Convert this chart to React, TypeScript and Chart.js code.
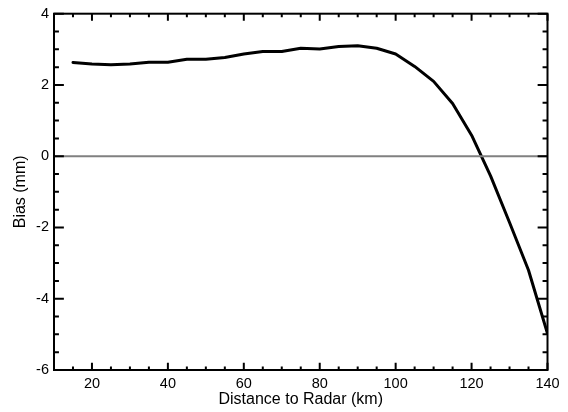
import React, { useEffect, useRef } from "react";
import { Chart, registerables } from "chart.js";

Chart.register(...registerables);

// Distance to radar (km) and bias (mm)
const DIST = [15, 20, 25, 30, 35, 40, 45, 50, 55, 60, 65, 70, 75, 80, 85, 90, 95, 100, 105, 110, 115, 120, 125, 130, 135, 140];
const BIAS = [2.63, 2.59, 2.57, 2.59, 2.64, 2.64, 2.72, 2.72, 2.77, 2.87, 2.94, 2.94, 3.03, 3.01, 3.08, 3.1, 3.03, 2.87, 2.52, 2.1, 1.48, 0.59, -0.55, -1.86, -3.2, -4.98];

// zero reference line
const ZERO_X = [10, 140];
const ZERO_Y = [0, 0];

const X_MIN = 10;
const X_MAX = 140;
const Y_MIN = -6;
const Y_MAX = 4;
const X_TICKS = [20, 40, 60, 80, 100, 120, 140];
const X_MINOR = [15, 25, 30, 35, 45, 50, 55, 65, 70, 75, 85, 90, 95, 105, 110, 115, 125, 130, 135];
const Y_TICKS = [-6, -4, -2, 0, 2, 4];
const Y_MINOR = [-5.5, -5, -4.5, -3.5, -3, -2.5, -1.5, -1, -0.5, 0.5, 1, 1.5, 2.5, 3, 3.5];

const FONT = "'Liberation Sans', Arial, Helvetica, sans-serif";

const framePlugin = {
  id: "frame",
  afterDraw(chart: any) {
    const { ctx, chartArea: a, scales } = chart;
    const x = scales.x;
    const y = scales.y;
    const h = a.bottom - a.top;
    const w = a.right - a.left;
    const xMaj = 0.02 * h;
    const yMaj = 0.02 * w;
    ctx.save();
    ctx.strokeStyle = "#000";
    ctx.lineWidth = 2;
    ctx.lineCap = "butt";
    ctx.strokeRect(a.left, a.top, w, h);
    ctx.beginPath();
    const xt = (v: number, len: number) => {
      const px = x.getPixelForValue(v);
      ctx.moveTo(px, a.bottom);
      ctx.lineTo(px, a.bottom - len);
      ctx.moveTo(px, a.top);
      ctx.lineTo(px, a.top + len);
    };
    const yt = (v: number, len: number) => {
      const py = y.getPixelForValue(v);
      ctx.moveTo(a.left, py);
      ctx.lineTo(a.left + len, py);
      ctx.moveTo(a.right, py);
      ctx.lineTo(a.right - len, py);
    };
    X_TICKS.forEach((v) => xt(v, xMaj));
    X_MINOR.forEach((v) => xt(v, xMaj / 2));
    Y_TICKS.forEach((v) => yt(v, yMaj));
    Y_MINOR.forEach((v) => yt(v, yMaj / 2));
    ctx.stroke();
    ctx.restore();
  },
};

export default function App() {
  const ref = useRef<HTMLCanvasElement | null>(null);

  useEffect(() => {
    if (!ref.current) return;
    const chart = new Chart(ref.current, {
      type: "line",
      data: {
        datasets: [
          {
            label: "zero",
            data: ZERO_X.map((v, i) => ({ x: v, y: ZERO_Y[i] })),
            borderColor: "#808080",
            borderWidth: 2,
            pointRadius: 0,
            tension: 0,
          },
          {
            label: "Bias",
            data: DIST.map((v, i) => ({ x: v, y: BIAS[i] })),
            borderColor: "#000",
            borderWidth: 3,
            pointRadius: 0,
            tension: 0,
            borderJoinStyle: "round",
            borderCapStyle: "round",
          },
        ],
      },
      options: {
        animation: false,
        responsive: false,
        layout: { padding: { top: 11, right: 20.5, left: 0, bottom: 0 } },
        plugins: { legend: { display: false }, tooltip: { enabled: false } },
        scales: {
          x: {
            type: "linear",
            min: X_MIN,
            max: X_MAX,
            afterBuildTicks: (s: any) => {
              s.ticks = X_TICKS.map((value) => ({ value }));
            },
            afterFit: (s: any) => {
              s.height = 42;
            },
            grid: { display: false, drawTicks: false },
            border: { display: false },
            ticks: {
              color: "#000",
              font: { family: FONT, size: 14.5 },
              padding: 5,
              maxRotation: 0,
              autoSkip: false,
            },
            title: {
              display: true,
              text: "Distance to Radar (km)",
              color: "#000",
              font: { family: FONT, size: 16 },
              padding: { top: 0, bottom: 3 },
            },
          },
          y: {
            type: "linear",
            min: Y_MIN,
            max: Y_MAX,
            afterBuildTicks: (s: any) => {
              s.ticks = Y_TICKS.map((value) => ({ value }));
            },
            afterFit: (s: any) => {
              s.width = 54;
            },
            grid: { display: false, drawTicks: false },
            border: { display: false },
            ticks: {
              color: "#000",
              font: { family: FONT, size: 14.5 },
              padding: 5,
              autoSkip: false,
            },
            title: {
              display: true,
              text: "Bias (mm)",
              color: "#000",
              font: { family: FONT, size: 16 },
              padding: { top: 11, bottom: 0 },
            },
          },
        },
      },
      plugins: [framePlugin],
    });
    return () => chart.destroy();
  }, []);

  return (
    <div style={{ position: "fixed", left: 0, top: 0, width: 568, height: 412, background: "#fff" }}>
      <canvas ref={ref} width={568} height={412} />
    </div>
  );
}
